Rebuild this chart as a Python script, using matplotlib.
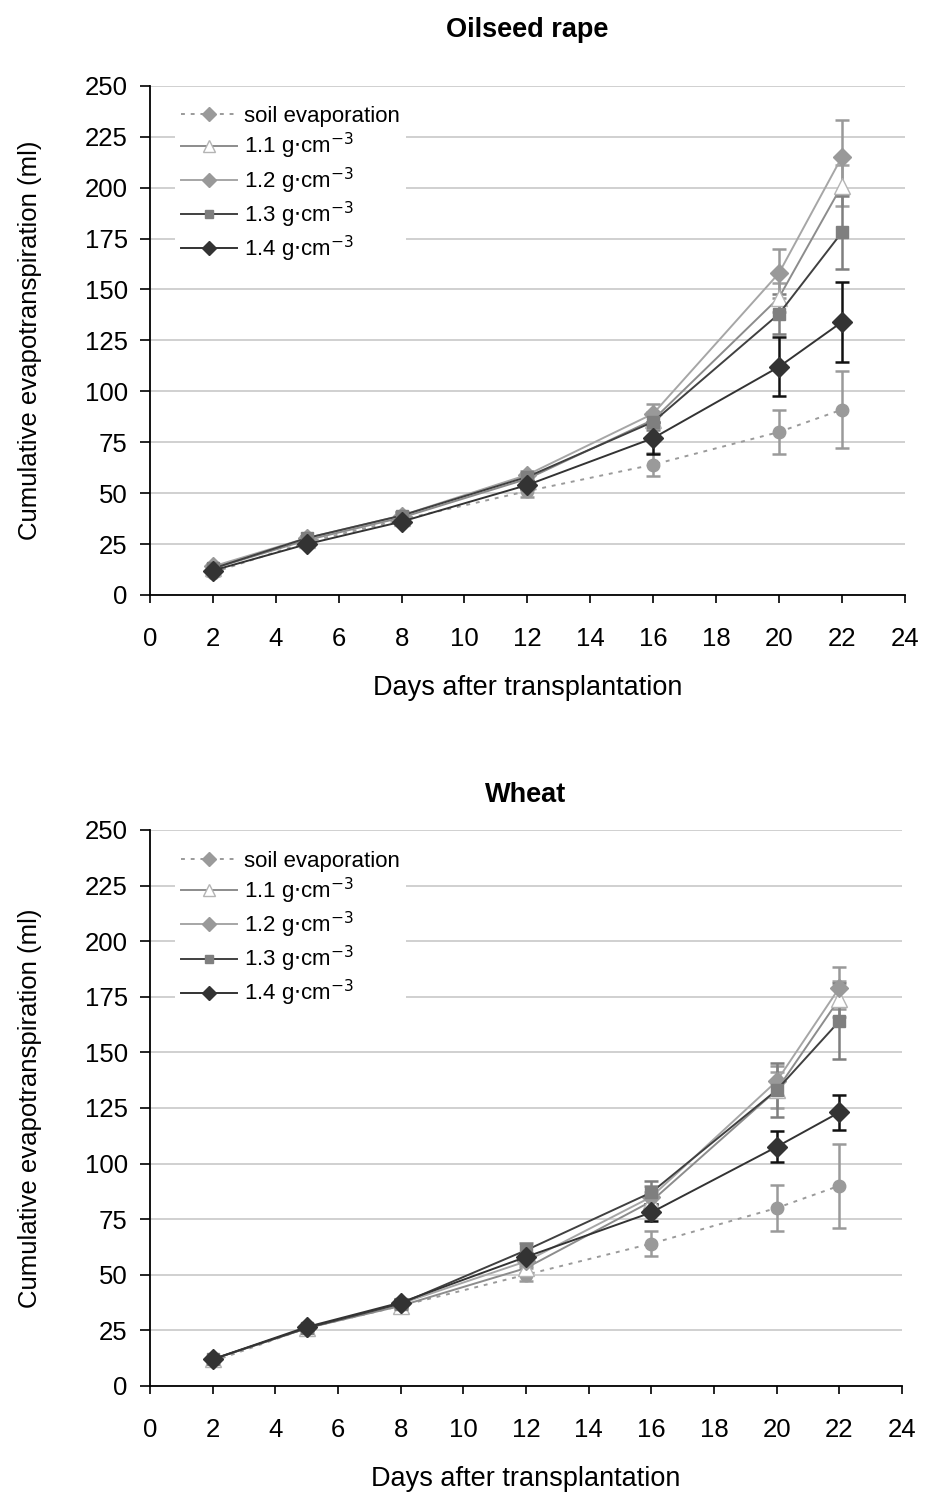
import matplotlib.pyplot as plt
from matplotlib.lines import Line2D

plt.rcParams['font.family'] = ['Liberation Sans', 'DejaVu Sans']

days = [2, 5, 8, 12, 16, 20, 22]

# Oilseed rape
rape_soil = [11, 26, 37, 51, 64, 80, 91]
rape_soil_err = [1.5, 1.5, 1.5, 3, 5.5, 11, 19]
rape_11 = [13, 27, 38, 57, 86, 146, 201]
rape_11_err = [1, 1, 1.5, 2, 4, 7, 10]
rape_12 = [14, 28, 39, 59, 89, 158, 215]
rape_12_err = [1, 1, 1.5, 2, 5, 12, 18]
rape_13 = [13, 28, 39, 58, 85, 138, 178]
rape_13_err = [1, 1, 1.5, 2, 4, 10, 18]
rape_14 = [12, 25, 36, 54, 77, 112, 134]
rape_14_err = [1, 1, 1.5, 2, 8, 14.5, 19.5]

# Wheat
wheat_soil = [11, 26, 36, 50, 64, 80, 90]
wheat_soil_err = [1.5, 1.5, 1.5, 3, 5.5, 10.5, 19]
wheat_11 = [12, 26, 36, 53, 83, 133, 174]
wheat_11_err = [1, 1, 1.5, 2, 4, 8, 8]
wheat_12 = [12, 26, 37, 56, 85, 137, 179]
wheat_12_err = [1, 1, 1.5, 2, 5, 7, 9.5]
wheat_13 = [12, 26, 37, 61, 87, 133, 164]
wheat_13_err = [1, 1, 1.5, 3.5, 5, 12, 17]
wheat_14 = [12, 26.5, 37.5, 58, 78, 107.5, 123]
wheat_14_err = [1, 1, 1.5, 2, 4, 7, 8]

labels = ['soil evaporation', r'1.1 g$\cdot$cm$^{-3}$', r'1.2 g$\cdot$cm$^{-3}$',
          r'1.3 g$\cdot$cm$^{-3}$', r'1.4 g$\cdot$cm$^{-3}$']

# line color, marker, marker face, marker edge, line style, marker size
styles = [
    ('#9a9a9a', 'o', '#9a9a9a', '#9a9a9a', (0, (2, 3)), 9),
    ('#8c8c8c', '^', 'white', '#b4b4b4', '-', 11),
    ('#a6a6a6', 'D', '#999999', '#999999', '-', 9),
    ('#404040', 's', '#7f7f7f', '#7f7f7f', '-', 8),
    ('#333333', 'D', '#333333', '#333333', '-', 10),
]


def draw(ax, series, errs, title, title_pad):
    for (col, mk, fc, ec, ls, ms), y, e in zip(styles, series, errs):
        ecol = ec if fc != 'white' else '#a0a0a0'
        if col == '#333333':
            ecol = '#111111'
        ax.errorbar(days, y, yerr=e, color=col, linestyle=ls, linewidth=1.4,
                    marker=mk, markersize=ms, markerfacecolor=fc,
                    markeredgecolor=ec, ecolor=ecol, elinewidth=1.8,
                    capsize=5, capthick=1.8, zorder=3)
    ax.set_xlim(0, 24)
    ax.set_ylim(0, 250)
    ax.set_xticks(range(0, 25, 2))
    ax.set_yticks(range(0, 251, 25))
    ax.tick_params(labelsize=18.5, direction='out', width=1.2)
    ax.tick_params(axis='x', length=6, pad=17)
    ax.tick_params(axis='y', length=7, pad=9)
    ax.grid(axis='y', color='#c8c8c8', linewidth=1.2)
    ax.set_axisbelow(True)
    for s in ('top', 'right'):
        ax.spines[s].set_visible(False)
    for s in ('left', 'bottom'):
        ax.spines[s].set_linewidth(1.3)
    ax.set_title(title, fontsize=19.5, fontweight='bold', pad=title_pad)
    ax.set_xlabel('Days after transplantation', fontsize=19.5, labelpad=17)
    ax.set_ylabel('Cumulative evapotranspiration (ml)', fontsize=18.5, labelpad=31)

    handles = []
    for i, (col, mk, fc, ec, ls, ms) in enumerate(styles):
        m = 'D' if i == 0 else mk
        handles.append(Line2D([], [], color=col, linestyle=ls, linewidth=1.4,
                              marker=m, markersize=ms * 0.75,
                              markerfacecolor=fc, markeredgecolor=ec))
    leg = ax.legend(handles, labels, loc='upper left', bbox_to_anchor=(0.018, 0.995),
                    fontsize=16, frameon=True, fancybox=False, framealpha=1,
                    edgecolor='none', handlelength=2.5, handletextpad=0.3,
                    labelspacing=0.18, borderpad=0.3)
    leg.set_zorder(5)


fig = plt.figure(figsize=(9.26, 14.93), dpi=100)
ax1 = fig.add_axes([0.162, 0.6015, 0.815, 0.341])
ax2 = fig.add_axes([0.162, 0.0717, 0.812, 0.3724])

draw(ax1, [rape_soil, rape_11, rape_12, rape_13, rape_14],
     [rape_soil_err, rape_11_err, rape_12_err, rape_13_err, rape_14_err],
     'Oilseed rape', 35)
draw(ax2, [wheat_soil, wheat_11, wheat_12, wheat_13, wheat_14],
     [wheat_soil_err, wheat_11_err, wheat_12_err, wheat_13_err, wheat_14_err],
     'Wheat', 20)

fig.savefig('out.png', dpi=100)
